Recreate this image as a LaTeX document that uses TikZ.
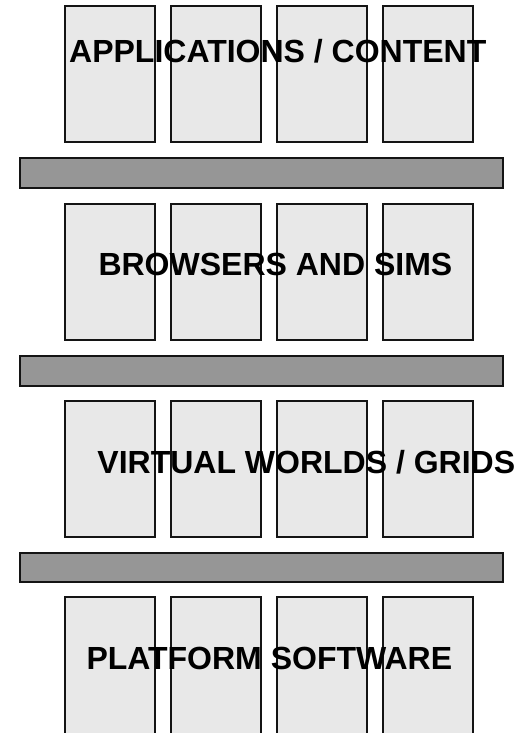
\documentclass[tikz,border=0pt]{standalone}
\usepackage{fontspec}
\setmainfont{Liberation Sans}
\definecolor{cellfill}{HTML}{E8E8E8}
\definecolor{barfill}{HTML}{969696}
\definecolor{edge}{HTML}{141414}
\begin{document}
\begin{tikzpicture}[x=1pt,y=-1pt,
  cell/.style={draw=edge,line width=2pt,fill=cellfill},
  bar/.style={draw=edge,line width=2pt,fill=barfill},
  layertext/.style={font=\bfseries\fontsize{32}{36}\selectfont,text=black,inner sep=0pt,anchor=base}]
\useasboundingbox (0,0) rectangle (520,733);
% four columns of cells for each layer
\foreach \y/\h in {6/142,204/340,401/537,597/740}{
  \foreach \x/\w in {65/155,171/261,277/367,383/473}{
    \draw[cell] (\x,\y) rectangle (\w,\h);
  }
}
% separating bars
\foreach \y/\h in {158/188,356/386,553/582}{
  \draw[bar] (20,\y) rectangle (503,\h);
}
% layer labels
\node[layertext] (l1) at (277.8,63) {APPLICATIONS / CONTENT};
\node[layertext] (l2) at (275.4,275.7) {BROWSERS AND SIMS};
\node[layertext] (l3) at (306.3,473) {VIRTUAL WORLDS / GRIDS};
\node[layertext] (l4) at (269.3,669) {PLATFORM SOFTWARE};
\end{tikzpicture}
\end{document}
